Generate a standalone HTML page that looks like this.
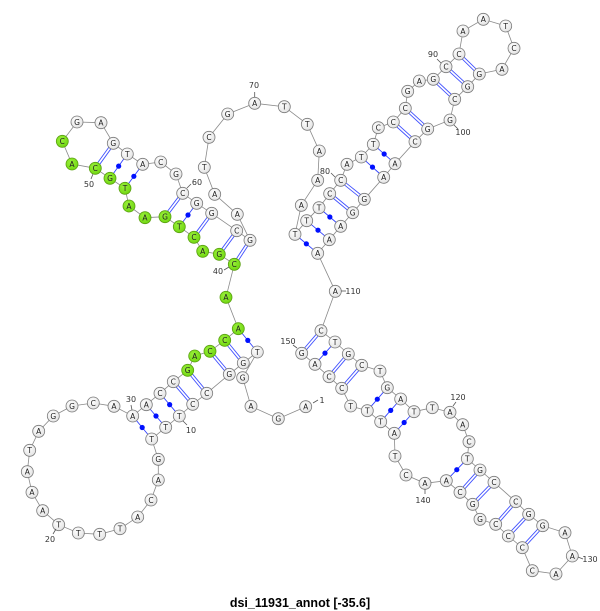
<!DOCTYPE html>
<html><head><meta charset="utf-8">
<style>
html,body{margin:0;padding:0;background:#fff;width:600px;height:611px;overflow:hidden}
svg{display:block}
.n{font-family:"DejaVu Sans","Liberation Sans",sans-serif;font-size:7.5px;fill:#222;text-anchor:middle}
.l{font-family:"DejaVu Sans","Liberation Sans",sans-serif;font-size:8px;fill:#333;text-anchor:middle}
.t{font-family:"Liberation Sans",sans-serif;font-size:12.5px;font-weight:bold;fill:#000;text-anchor:middle}
</style></head><body>
<svg id="s" width="600" height="611" viewBox="0 0 600 611" xmlns="http://www.w3.org/2000/svg">
<defs>
<radialGradient id="gw" cx="40%" cy="35%" r="70%"><stop offset="0" stop-color="#ffffff"/><stop offset="1" stop-color="#e2e2e2"/></radialGradient>
<radialGradient id="gg" cx="40%" cy="35%" r="70%"><stop offset="0" stop-color="#9af03a"/><stop offset="1" stop-color="#6fd610"/></radialGradient>
</defs>
<g id="bb"></g><g id="pp"></g><g id="cc"></g>
<g id="lab">
<line x1="313" y1="403" x2="318" y2="400" stroke="#555" stroke-width="0.8"/><text class="l" x="322" y="403">1</text>
<line x1="183" y1="421" x2="187" y2="425" stroke="#555" stroke-width="0.8"/><text class="l" x="191" y="433">10</text>
<line x1="56" y1="529" x2="53" y2="534" stroke="#555" stroke-width="0.8"/><text class="l" x="50" y="542">20</text>
<line x1="132" y1="410" x2="131" y2="405" stroke="#555" stroke-width="0.8"/><text class="l" x="131" y="402">30</text>
<line x1="229" y1="267" x2="224" y2="270" stroke="#555" stroke-width="0.8"/><text class="l" x="218" y="274">40</text>
<line x1="93" y1="174" x2="91" y2="179" stroke="#555" stroke-width="0.8"/><text class="l" x="89" y="187">50</text>
<line x1="187" y1="188" x2="191" y2="184" stroke="#555" stroke-width="0.8"/><text class="l" x="197" y="185">60</text>
<line x1="254.7" y1="97" x2="254.7" y2="92" stroke="#555" stroke-width="0.8"/><text class="l" x="254" y="88">70</text>
<line x1="335" y1="177" x2="331" y2="173" stroke="#555" stroke-width="0.8"/><text class="l" x="325" y="174">80</text>
<line x1="441" y1="63" x2="437" y2="59" stroke="#555" stroke-width="0.8"/><text class="l" x="433" y="57">90</text>
<line x1="454" y1="125" x2="458" y2="129" stroke="#555" stroke-width="0.8"/><text class="l" x="463" y="135">100</text>
<line x1="341" y1="291" x2="346" y2="291" stroke="#555" stroke-width="0.8"/><text class="l" x="353" y="294">110</text>
<line x1="453" y1="406" x2="456" y2="402" stroke="#555" stroke-width="0.8"/><text class="l" x="458" y="400">120</text>
<line x1="578" y1="557" x2="583" y2="559" stroke="#555" stroke-width="0.8"/><text class="l" x="590" y="562">130</text>
<line x1="425" y1="489" x2="425" y2="494" stroke="#555" stroke-width="0.8"/><text class="l" x="423" y="503">140</text>
<line x1="297" y1="348" x2="293" y2="345" stroke="#555" stroke-width="0.8"/><text class="l" x="288" y="344">150</text>
</g>
<g id="tx">
<text class="n" x="305.7" y="409.5">A</text><text class="n" x="278.3" y="421.5">G</text><text class="n" x="251" y="409.1">A</text><text class="n" x="242.7" y="380.5">G</text><text class="n" x="257.3" y="354.8">T</text><text class="n" x="243.3" y="365.8">G</text><text class="n" x="229.3" y="377.1">G</text><text class="n" x="206.7" y="396.1">C</text><text class="n" x="192.7" y="407.1">C</text><text class="n" x="179.3" y="418.8">T</text>
<text class="n" x="165.7" y="430.1">T</text><text class="n" x="151.7" y="441.8">T</text><text class="n" x="158.3" y="462.1">G</text><text class="n" x="158.3" y="482.8">A</text><text class="n" x="151" y="502.8">C</text><text class="n" x="137.7" y="519.8">A</text><text class="n" x="120" y="531.5">T</text><text class="n" x="99.7" y="537.1">T</text><text class="n" x="78.3" y="535.8">T</text><text class="n" x="58.7" y="527.5">T</text>
<text class="n" x="42.7" y="513.5">A</text><text class="n" x="32" y="495.1">A</text><text class="n" x="27.3" y="474.5">A</text><text class="n" x="29.7" y="453.1">T</text><text class="n" x="38.7" y="434.1">A</text><text class="n" x="53.3" y="418.8">G</text><text class="n" x="72" y="408.8">G</text><text class="n" x="93.3" y="405.8">C</text><text class="n" x="114" y="409.1">A</text><text class="n" x="132.7" y="418.8">A</text>
<text class="n" x="146.3" y="407.5">A</text><text class="n" x="160" y="396.1">C</text><text class="n" x="173.3" y="384.5">C</text><text class="n" x="187.7" y="373.1">G</text><text class="n" x="194.7" y="358.8">A</text><text class="n" x="210" y="354.1">C</text><text class="n" x="224.7" y="343.1">C</text><text class="n" x="238.3" y="331.5">A</text><text class="n" x="226" y="300.1">A</text><text class="n" x="234.3" y="267.1">C</text>
<text class="n" x="219.3" y="257.1">G</text><text class="n" x="202.7" y="254.1">A</text><text class="n" x="194" y="240.1">C</text><text class="n" x="179.3" y="229.5">T</text><text class="n" x="165" y="219.5">G</text><text class="n" x="145" y="220.5">A</text><text class="n" x="129" y="208.8">A</text><text class="n" x="125" y="191.1">T</text><text class="n" x="110" y="181.1">G</text><text class="n" x="95.3" y="171.1">C</text>
<text class="n" x="72" y="166.8">A</text><text class="n" x="62.3" y="144.1">C</text><text class="n" x="77" y="124.8">G</text><text class="n" x="101" y="125.5">A</text><text class="n" x="113.3" y="146.1">G</text><text class="n" x="127.3" y="156.8">T</text><text class="n" x="142.7" y="167.1">A</text><text class="n" x="160.7" y="164.8">C</text><text class="n" x="176" y="176.8">G</text><text class="n" x="182.7" y="196.1">C</text>
<text class="n" x="196.7" y="206.1">G</text><text class="n" x="211.7" y="216.1">G</text><text class="n" x="236.7" y="233.5">C</text><text class="n" x="250" y="243.1">G</text><text class="n" x="237.3" y="217.1">A</text><text class="n" x="214.7" y="197.1">A</text><text class="n" x="204.3" y="170.1">T</text><text class="n" x="209" y="140.1">C</text><text class="n" x="227.7" y="116.8">G</text><text class="n" x="254.7" y="106.1">A</text>
<text class="n" x="284.3" y="109.5">T</text><text class="n" x="307.3" y="127.1">T</text><text class="n" x="319.3" y="153.8">A</text><text class="n" x="317.7" y="183.1">A</text><text class="n" x="301.3" y="208.1">A</text><text class="n" x="295" y="237.1">T</text><text class="n" x="306.7" y="223.5">T</text><text class="n" x="319" y="210.5">T</text><text class="n" x="329.7" y="196.5">C</text><text class="n" x="340.7" y="183.1">C</text>
<text class="n" x="347" y="167.1">A</text><text class="n" x="361.3" y="159.8">T</text><text class="n" x="373.3" y="147.1">T</text><text class="n" x="378.3" y="130.5">C</text><text class="n" x="393.3" y="124.8">C</text><text class="n" x="405.3" y="111.1">C</text><text class="n" x="407.7" y="94.1">G</text><text class="n" x="419.3" y="83.8">A</text><text class="n" x="433.3" y="82.1">G</text><text class="n" x="446" y="69.5">C</text>
<text class="n" x="459" y="56.8">C</text><text class="n" x="463" y="33.8">A</text><text class="n" x="483.3" y="22.1">A</text><text class="n" x="505.7" y="28.8">T</text><text class="n" x="514" y="51.1">C</text><text class="n" x="502" y="72.1">A</text><text class="n" x="479.3" y="76.8">G</text><text class="n" x="467.7" y="89.5">G</text><text class="n" x="454.7" y="102.1">C</text><text class="n" x="450" y="122.8">G</text>
<text class="n" x="427.7" y="131.8">G</text><text class="n" x="415" y="144.5">C</text><text class="n" x="395" y="166.5">A</text><text class="n" x="383.7" y="180.1">A</text><text class="n" x="364.3" y="202.1">G</text><text class="n" x="352.7" y="215.5">G</text><text class="n" x="340.7" y="229.1">A</text><text class="n" x="329.3" y="242.5">A</text><text class="n" x="317.7" y="256.1">A</text><text class="n" x="335.3" y="294.1">A</text>
<text class="n" x="321" y="333.5">C</text><text class="n" x="335" y="344.8">T</text><text class="n" x="348.3" y="356.8">G</text><text class="n" x="361.7" y="368.1">C</text><text class="n" x="380" y="373.8">T</text><text class="n" x="387.3" y="390.5">G</text><text class="n" x="400.7" y="401.8">A</text><text class="n" x="414" y="414.5">T</text><text class="n" x="432.3" y="410.5">T</text><text class="n" x="450" y="415.1">A</text>
<text class="n" x="462.7" y="427.5">A</text><text class="n" x="469" y="444.5">C</text><text class="n" x="467.3" y="461.5">T</text><text class="n" x="480" y="472.8">G</text><text class="n" x="494" y="485.1">C</text><text class="n" x="515.7" y="504.5">C</text><text class="n" x="528.7" y="517.1">G</text><text class="n" x="542.7" y="528.5">G</text><text class="n" x="565" y="535.5">A</text><text class="n" x="572.3" y="558.8">A</text>
<text class="n" x="556" y="576.8">A</text><text class="n" x="532.3" y="573.5">C</text><text class="n" x="522.3" y="550.5">C</text><text class="n" x="508.3" y="538.8">C</text><text class="n" x="495.7" y="527.1">C</text><text class="n" x="480" y="522.1">G</text><text class="n" x="472.7" y="507.1">G</text><text class="n" x="460" y="495.1">C</text><text class="n" x="446.3" y="483.5">A</text><text class="n" x="425" y="486.1">A</text>
<text class="n" x="406" y="477.8">C</text><text class="n" x="395" y="458.8">T</text><text class="n" x="394.3" y="436.1">A</text><text class="n" x="380.7" y="424.5">T</text><text class="n" x="367.3" y="413.5">T</text><text class="n" x="350.7" y="408.8">T</text><text class="n" x="341.7" y="391.1">C</text><text class="n" x="329" y="379.5">C</text><text class="n" x="315" y="367.1">A</text><text class="n" x="301.7" y="356.1">G</text>
</g>
<text class="t" x="300" y="607">dsi_11931_annot [-35.6]</text>
</svg>
<script>
var P=[[305.7,406.7],[278.3,418.7],[251,406.3],[242.7,377.7],[257.3,352],[243.3,363],[229.3,374.3],[206.7,393.3],[192.7,404.3],[179.3,416],
[165.7,427.3],[151.7,439],[158.3,459.3],[158.3,480],[151,500],[137.7,517],[120,528.7],[99.7,534.3],[78.3,533],[58.7,524.7],
[42.7,510.7],[32,492.3],[27.3,471.7],[29.7,450.3],[38.7,431.3],[53.3,416],[72,406],[93.3,403],[114,406.3],[132.7,416],
[146.3,404.7],[160,393.3],[173.3,381.7],[187.7,370.3],[194.7,356],[210,351.3],[224.7,340.3],[238.3,328.7],[226,297.3],[234.3,264.3],
[219.3,254.3],[202.7,251.3],[194,237.3],[179.3,226.7],[165,216.7],[145,217.7],[129,206],[125,188.3],[110,178.3],[95.3,168.3],
[72,164],[62.3,141.3],[77,122],[101,122.7],[113.3,143.3],[127.3,154],[142.7,164.3],[160.7,162],[176,174],[182.7,193.3],
[196.7,203.3],[211.7,213.3],[236.7,230.7],[250,240.3],[237.3,214.3],[214.7,194.3],[204.3,167.3],[209,137.3],[227.7,114],[254.7,103.3],
[284.3,106.7],[307.3,124.3],[319.3,151],[317.7,180.3],[301.3,205.3],[295,234.3],[306.7,220.7],[319,207.7],[329.7,193.7],[340.7,180.3],
[347,164.3],[361.3,157],[373.3,144.3],[378.3,127.7],[393.3,122],[405.3,108.3],[407.7,91.3],[419.3,81],[433.3,79.3],[446,66.7],
[459,54],[463,31],[483.3,19.3],[505.7,26],[514,48.3],[502,69.3],[479.3,74],[467.7,86.7],[454.7,99.3],[450,120],
[427.7,129],[415,141.7],[395,163.7],[383.7,177.3],[364.3,199.3],[352.7,212.7],[340.7,226.3],[329.3,239.7],[317.7,253.3],[335.3,291.3],
[321,330.7],[335,342],[348.3,354],[361.7,365.3],[380,371],[387.3,387.7],[400.7,399],[414,411.7],[432.3,407.7],[450,412.3],
[462.7,424.7],[469,441.7],[467.3,458.7],[480,470],[494,482.3],[515.7,501.7],[528.7,514.3],[542.7,525.7],[565,532.7],[572.3,556],
[556,574],[532.3,570.7],[522.3,547.7],[508.3,536],[495.7,524.3],[480,519.3],[472.7,504.3],[460,492.3],[446.3,480.7],[425,483.3],
[406,475],[395,456],[394.3,433.3],[380.7,421.7],[367.3,410.7],[350.7,406],[341.7,388.3],[329,376.7],[315,364.3],[301.7,353.3]];
var D=[[30,12],[31,11],[32,10],[38,5],[44,61],[49,56],[48,57],[76,109],[77,108],[78,107],[82,104],[83,103],[112,149],[116,145],[117,144],[118,143],[123,139]];
var G=[[33,9],[34,8],[36,7],[37,6],[40,64],[41,63],[43,62],[45,60],[50,55],[79,106],[80,105],[85,102],[86,101],[89,99],[90,98],[91,97],[111,150],[113,148],[114,147],[124,138],[125,137],[126,135],[127,134],[128,133]];
var NS="http://www.w3.org/2000/svg";
function el(t,a,p){var e=document.createElementNS(NS,t);for(var k in a)e.setAttribute(k,a[k]);document.getElementById(p).appendChild(e);return e;}
var pts=P.map(function(p){return p.join(",")}).join(" ");
el("polyline",{points:pts,fill:"none",stroke:"#8a8a8a","stroke-width":"0.8"},"bb");
function seg(a,b){var x1=P[a-1][0],y1=P[a-1][1],x2=P[b-1][0],y2=P[b-1][1];var dx=x2-x1,dy=y2-y1,L=Math.sqrt(dx*dx+dy*dy);var ux=dx/L,uy=dy/L;return [x1+ux*6,y1+uy*6,x2-ux*6,y2-uy*6,-uy,ux];}
D.forEach(function(d){var s=seg(d[0],d[1]);el("line",{x1:s[0],y1:s[1],x2:s[2],y2:s[3],stroke:"#3040ff","stroke-width":"0.9"},"pp");el("circle",{cx:(s[0]+s[2])/2,cy:(s[1]+s[3])/2,r:2.6,fill:"#0010ff"},"pp");});
G.forEach(function(d){var s=seg(d[0],d[1]);[-1.3,1.3].forEach(function(o){el("line",{x1:s[0]+s[4]*o,y1:s[1]+s[5]*o,x2:s[2]+s[4]*o,y2:s[3]+s[5]*o,stroke:"#4050ff","stroke-width":"0.9"},"pp");});});
P.forEach(function(p,i){var n=i+1;var g=(n>=34&&n<=52);el("circle",{cx:p[0],cy:p[1],r:6,fill:g?"url(#gg)":"url(#gw)",stroke:g?"#5aa010":"#7a7a7a","stroke-width":"0.8"},"cc");});
</script>
</body></html>
